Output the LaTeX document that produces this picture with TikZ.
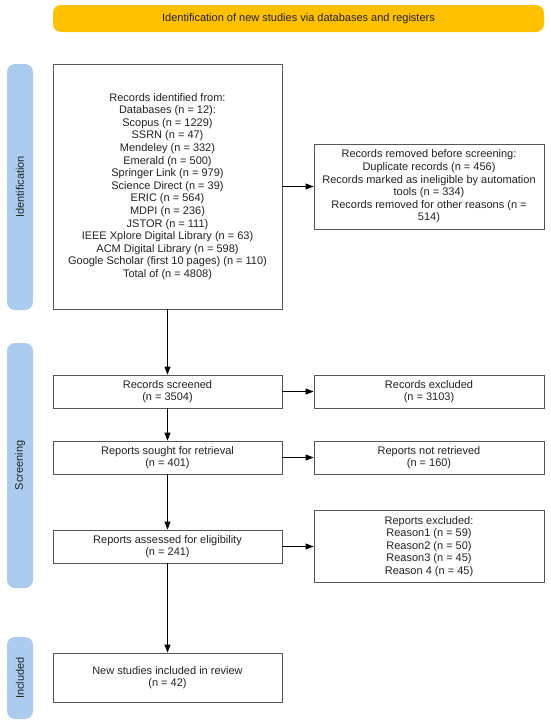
\documentclass[tikz,border=0pt]{standalone}
\usepackage{fontspec}
\setmainfont{Liberation Sans}
\usetikzlibrary{arrows.meta}
\definecolor{bannergold}{HTML}{FFC000}
\definecolor{sidebarblue}{HTML}{ABCCEF}
\definecolor{boxline}{HTML}{555555}
\definecolor{txt}{HTML}{222222}
\begin{document}
\begin{tikzpicture}[x=1pt,y=-1pt,
  txtstyle/.style={font=\fontsize{11}{12.6}\selectfont, text=txt},
  flowbox/.style={txtstyle, draw=boxline, line width=0.8pt, fill=white, align=center, inner sep=2pt},
  sidebar/.style={fill=sidebarblue, rounded corners=8pt},
  sidelabel/.style={txtstyle, rotate=90, text=txt},
  flowarrow/.style={draw=black, line width=0.8pt, -{Triangle[length=8pt,width=6pt]}}
]
\useasboundingbox (0,0) rectangle (550,723);
\fill[white] (0,0) rectangle (550,723);

% banner
\fill[bannergold, rounded corners=8pt] (53,5) rectangle (544,32);
\node[txtstyle] (banner) at (298.5,18.5) {Identification of new studies via databases and registers};

% side bars
\fill[sidebar] (7,64) rectangle (33,310);
\node[sidelabel] (lblid) at (20,187) {Identification};
\fill[sidebar] (7,343) rectangle (33,588);
\node[sidelabel] (lblscr) at (20,465.5) {Screening};
\fill[sidebar] (7,637) rectangle (33,719);
\node[sidelabel] (lblinc) at (20,678) {Included};

% boxes
\node[flowbox, minimum width=229pt, minimum height=245pt] (ident) at (167.5,186.5)
 {Records identified from:\\Databases (n = 12):\\Scopus (n = 1229)\\SSRN (n = 47)\\Mendeley (n = 332)\\Emerald (n = 500)\\Springer Link (n = 979)\\Science Direct (n = 39)\\ERIC (n = 564)\\MDPI (n = 236)\\JSTOR (n = 111)\\IEEE Xplore Digital Library (n = 63)\\ACM Digital Library (n = 598)\\Google Scholar (first 10 pages) (n = 110)\\Total of (n = 4808)};

\node[flowbox, minimum width=230pt, minimum height=85pt] (removed) at (429,186.5)
 {Records removed before screening:\\Duplicate records (n = 456)\\Records marked as ineligible by automation\\tools (n = 334)\\Records removed for other reasons (n =\\514)};

\node[flowbox, minimum width=229pt, minimum height=33pt] (screened) at (167.5,391.5)
 {Records screened\\(n = 3504)};
\node[flowbox, minimum width=230pt, minimum height=33pt] (excluded) at (429,391.5)
 {Records excluded\\(n = 3103)};

\node[flowbox, minimum width=229pt, minimum height=33pt] (sought) at (167.5,457.5)
 {Reports sought for retrieval\\(n = 401)};
\node[flowbox, minimum width=230pt, minimum height=33pt] (notret) at (429,457.5)
 {Reports not retrieved\\(n = 160)};

\node[flowbox, minimum width=229pt, minimum height=33pt] (assessed) at (167.5,546.5)
 {Reports assessed for eligibility\\(n = 241)};
\node[flowbox, minimum width=230pt, minimum height=72pt] (repexcl) at (429,546.5)
 {Reports excluded:\\Reason1 (n = 59)\\Reason2 (n = 50)\\Reason3 (n = 45)\\Reason 4 (n = 45)};

\node[flowbox, minimum width=229pt, minimum height=49pt] (included) at (167.5,677.5)
 {New studies included in review\\(n = 42)};

% arrows
\draw[flowarrow] (ident.east) -- (removed.west);
\draw[flowarrow] (ident.south) -- (screened.north);
\draw[flowarrow] (screened.east) -- (excluded.west);
\draw[flowarrow] (screened.south) -- (sought.north);
\draw[flowarrow] (sought.east) -- (notret.west);
\draw[flowarrow] (sought.south) -- (assessed.north);
\draw[flowarrow] (assessed.east) -- (repexcl.west);
\draw[flowarrow] (assessed.south) -- (included.north);
\end{tikzpicture}
\end{document}
